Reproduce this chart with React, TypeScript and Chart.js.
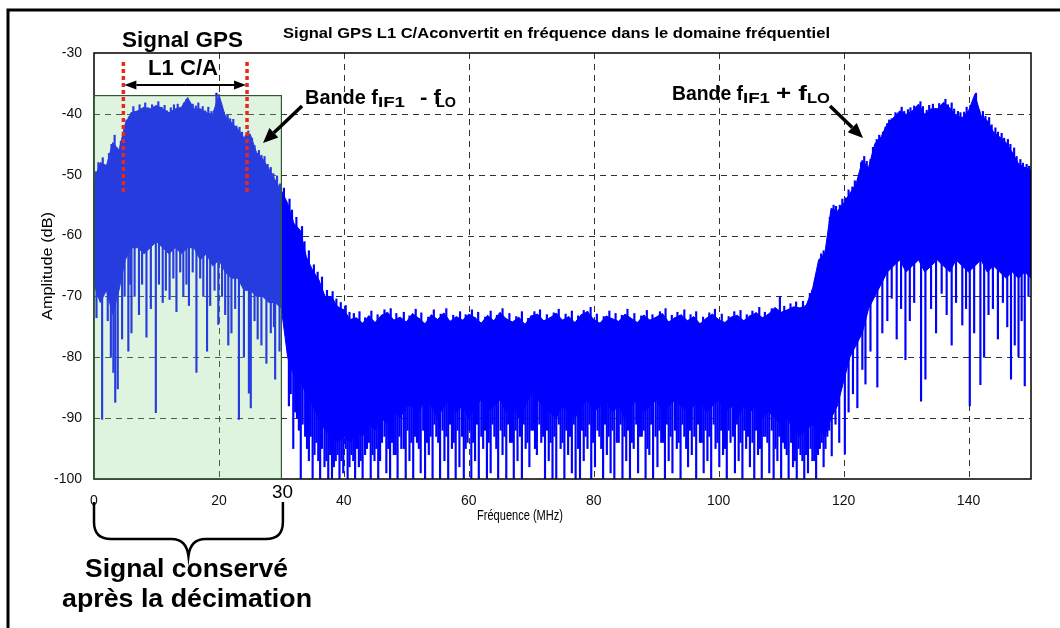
import React, { useEffect, useRef } from 'react';
import { Chart, registerables } from 'chart.js';

Chart.register(...registerables);

// ---------------- data ----------------
const freqMHz = [
  0, 1, 2, 3, 4, 5, 6, 7, 8, 9, 10, 11, 12, 13, 14, 15, 16, 17, 18, 19,
  20, 21, 22, 23, 24, 25, 26, 27, 28, 29, 30, 31, 32, 33, 34, 35, 36, 37, 38, 39,
  40, 41, 42, 43, 44, 45, 46, 47, 48, 49, 50, 51, 52, 53, 54, 55, 56, 57, 58, 59,
  60, 61, 62, 63, 64, 65, 66, 67, 68, 69, 70, 71, 72, 73, 74, 75, 76, 77, 78, 79,
  80, 81, 82, 83, 84, 85, 86, 87, 88, 89, 90, 91, 92, 93, 94, 95, 96, 97, 98, 99,
  100, 101, 102, 103, 104, 105, 106, 107, 108, 109, 110, 111, 112, 113, 114, 115, 116, 117, 118, 119,
  120, 121, 122, 123, 124, 125, 126, 127, 128, 129, 130, 131, 132, 133, 134, 135, 136, 137, 138, 139,
  140, 141, 142, 143, 144, 145, 146, 147, 148, 149, 150,
];

// upper edge of the spectrum (dB)
const peakDb = [
  -51, -48, -48.5, -44.7, -46, -41.6, -39.8, -39.5, -38.9, -39.2,
  -38.6, -39.2, -39.8, -39.2, -38.9, -37.3, -39.2, -39.2, -39.8, -40.1,
  -36.8, -40.3, -41.4, -42.5, -43.9, -43.3, -46.3, -47.4, -49, -50.9,
  -52.6, -54.7, -58, -59.1, -63.5, -65.7, -67.3, -70, -70, -71.7,
  -72.2, -73.8, -73.5, -74.4, -73.2, -74.3, -73.1, -72.6, -73.9, -73.4,
  -74.2, -72.8, -73.6, -74.5, -73, -73.8, -72.7, -74.1, -73.3, -73.9,
  -72.9, -73.5, -74.4, -73.1, -74, -72.6, -73.7, -74.2, -73.4, -74.6,
  -73.2, -72.9, -74, -73.5, -72.8, -73.9, -73.3, -74.3, -73, -72.5,
  -73.8, -74.4, -73.2, -73.7, -74.1, -72.9, -73.6, -74.3, -73.1, -73.9,
  -73.4, -72.8, -74.2, -73.5, -73, -74, -73.3, -74.5, -73.6, -72.9,
  -73.8, -74.3, -73.4, -73.1, -74, -73.2, -72.7, -73.5, -72.9, -71.8,
  -72.6, -72.2, -71.7, -71.9, -71.5, -68.9, -64, -62.9, -55.5, -56,
  -54.7, -53.1, -51.5, -47.7, -48.8, -44.9, -43.8, -41.6, -40.6, -39.5,
  -40.1, -39.5, -38.4, -40.1, -39.2, -39.2, -38.1, -39, -40.3, -40.6,
  -39.5, -36.8, -40.3, -41.1, -43, -43.8, -44.7, -46.3, -48.2, -48.8,
  -49.3,
];

// lower edge of the dense (solid) part of the spectrum (dB)
const floorDb = [
  -68, -71, -69, -73, -69, -64, -62, -62, -63, -62,
  -61, -62, -63, -62, -63, -62, -62, -64, -63, -65,
  -64, -66, -67, -67, -69, -69, -70, -70, -71, -71,
  -72, -80, -83, -84, -86, -88, -90, -92, -93, -94,
  -93, -94, -92, -93, -91, -92, -90, -91, -89, -90,
  -88, -88, -89, -87, -88, -90, -88, -87, -89, -88,
  -90, -88, -87, -89, -88, -87, -89, -88, -90, -88,
  -86, -87, -88, -89, -90, -88, -89, -90, -88, -87,
  -89, -88, -87, -89, -88, -90, -88, -87, -89, -88,
  -87, -89, -88, -87, -88, -89, -88, -87, -89, -88,
  -87, -89, -88, -90, -88, -89, -88, -90, -89, -90,
  -91, -90, -92, -93, -92, -91, -92, -93, -90, -88,
  -84, -80, -78, -76, -72, -70, -68, -66, -65, -64,
  -66, -65, -64, -66, -65, -64, -65, -66, -64, -65,
  -66, -65, -64, -66, -65, -66, -67, -66, -67, -66,
  -67,
];

// deep isolated spikes [frequency MHz, lowest dB]
const spikesLeftBand: [number, number][] = [
  [0.4, -73.5], [0.8, -70], [1.3, -90.2], [2.2, -74], [2.7, -80],
  [3.1, -82.5], [3.4, -87.4], [3.8, -85.2], [4.5, -77], [4.9, -70],
  [5.5, -79], [5.8, -68], [6.0, -76], [6.5, -70], [7.2, -73],
  [7.7, -68], [8.4, -76.7], [9.1, -72], [9.9, -89.1], [10.4, -68],
  [11.0, -71], [11.5, -69], [12.1, -70.5], [12.7, -67], [13.2, -72.5],
  [13.8, -66], [14.3, -70], [14.8, -68], [15.2, -71.5], [15.8, -66],
  [16.4, -82.5], [17.0, -67], [17.5, -70], [18.1, -79], [18.6, -71.5],
  [19.3, -69], [19.9, -74.6], [20.5, -70], [21.0, -73], [21.5, -78],
  [22.0, -76], [22.6, -72], [23.2, -90.2], [24.0, -80], [24.8, -85.9],
  [25.1, -88.3], [25.7, -74], [26.2, -77], [26.8, -78], [27.6, -81],
  [28.3, -76], [28.8, -75], [29.0, -83.6], [29.7, -79],
];

const spikesNoiseFloor: [number, number][] = [
  [31.2, -88], [31.9, -95], [32.5, -90], [33.1, -100], [33.8, -93], [34.4, -97], [35.0, -100], [35.6, -94],
  [36.2, -100], [36.9, -98], [37.5, -100], [38.1, -100], [38.7, -97], [39.3, -100], [39.9, -99], [40.6, -100],
  [41.2, -96], [41.8, -100], [42.4, -98], [43.0, -100], [43.7, -95], [44.3, -100], [44.9, -97], [45.5, -100],
  [46.1, -94], [46.8, -99], [47.4, -100], [48.0, -96], [48.6, -100], [49.2, -95], [49.9, -100], [50.5, -97],
  [51.1, -100], [51.7, -94], [52.3, -99], [53.0, -100], [53.6, -96], [54.2, -100], [54.8, -93], [55.4, -100],
  [56.1, -97], [56.7, -100], [57.3, -95], [57.9, -100], [58.5, -98], [59.2, -100], [59.8, -94], [60.4, -100],
  [61.0, -97], [61.6, -100], [62.3, -95], [62.9, -100], [63.5, -99], [64.1, -93], [64.7, -100], [65.4, -96],
  [66.0, -100], [66.6, -94], [67.2, -100], [67.8, -97], [68.5, -100], [69.1, -95], [69.7, -98], [70.3, -92],
  [70.9, -96], [71.6, -94], [72.2, -100], [72.8, -97], [73.4, -100], [74.0, -100], [74.7, -95], [75.3, -100],
  [75.9, -96], [76.5, -99], [77.1, -100], [77.8, -100], [78.4, -97], [79.0, -95], [79.6, -100], [80.2, -98],
  [80.9, -93], [81.5, -100], [82.1, -96], [82.7, -99], [83.3, -100], [84.0, -94], [84.6, -100], [85.2, -97],
  [85.8, -100], [86.4, -95], [87.1, -99], [87.7, -93], [88.3, -100], [88.9, -96], [89.5, -100], [90.2, -98],
  [90.8, -94], [91.4, -100], [92.0, -97], [92.6, -99], [93.3, -95], [93.9, -100], [94.5, -93], [95.1, -98],
  [95.7, -96], [96.4, -100], [97.0, -94], [97.6, -99], [98.2, -97], [98.8, -100], [99.5, -95], [100.1, -98],
  [100.7, -96], [101.3, -100], [101.9, -94], [102.6, -99], [103.2, -97], [103.8, -100], [104.4, -95], [105.0, -98],
  [105.7, -100], [106.3, -96], [106.9, -100], [107.5, -93], [108.1, -99], [108.8, -100], [109.4, -97], [110.0, -100],
  [110.6, -95], [111.2, -100], [111.9, -98], [112.5, -100], [113.1, -96], [113.7, -100], [114.3, -99], [115.0, -97],
  [115.6, -100], [116.2, -95], [116.8, -98], [117.4, -93], [118.1, -96.2], [118.7, -91], [119.3, -94], [120.2, -95.9],
  [120.8, -89],
];

// shorter spikes packed between the deep ones in the noise floor
const spikesNoiseFloorShort: [number, number][] = [
  [31.5, -86], [32.2, -89], [32.8, -92], [33.4, -91], [34.1, -95], [34.7, -93], [35.3, -96], [35.9, -97],
  [36.5, -95], [37.2, -97], [37.8, -96], [38.4, -98], [39.0, -96], [39.6, -97], [40.3, -95], [40.9, -98],
  [41.5, -97], [42.1, -95], [42.7, -97], [43.4, -96], [44.0, -94], [44.6, -96], [45.2, -95], [45.8, -97],
  [46.5, -93], [47.1, -95], [47.7, -94], [48.3, -96], [48.9, -93], [49.6, -95], [50.2, -92], [50.8, -94],
  [51.4, -93], [52.0, -95], [52.7, -92], [53.3, -94], [53.9, -93], [54.5, -91], [55.1, -94], [55.8, -92],
  [56.4, -93], [57.0, -91], [57.6, -94], [58.2, -92], [58.9, -93], [59.5, -95], [60.1, -92], [60.7, -94],
  [61.3, -91], [62.0, -93], [62.6, -92], [63.2, -94], [63.8, -91], [64.4, -95], [65.1, -92], [65.7, -93],
  [66.3, -91], [66.9, -94], [67.5, -92], [68.2, -93], [68.8, -91], [69.4, -94], [70.0, -92], [70.6, -95],
  [71.3, -91], [71.9, -93], [72.5, -92], [73.1, -94], [73.7, -93], [74.4, -91], [75.0, -94], [75.6, -92],
  [76.2, -93], [76.8, -91], [77.5, -95], [78.1, -92], [78.7, -93], [79.3, -91], [79.9, -94], [80.6, -92],
  [81.2, -95], [81.8, -91], [82.4, -93], [83.0, -92], [83.7, -94], [84.3, -91], [84.9, -93], [85.5, -92],
  [86.1, -94], [86.8, -91], [87.4, -93], [88.0, -92], [88.6, -95], [89.2, -91], [89.9, -93], [90.5, -92],
  [91.1, -94], [91.7, -91], [92.3, -93], [93.0, -92], [93.6, -94], [94.2, -91], [94.8, -95], [95.4, -92],
  [96.1, -93], [96.7, -91], [97.3, -94], [97.9, -92], [98.5, -93], [99.2, -91], [99.8, -94], [100.4, -92],
  [101.0, -95], [101.6, -92], [102.3, -93], [102.9, -91], [103.5, -94], [104.1, -92], [104.7, -93], [105.4, -94],
  [106.0, -92], [106.6, -95], [107.2, -93], [107.8, -94], [108.5, -92], [109.1, -95], [109.7, -93], [110.3, -94],
  [110.9, -96], [111.6, -94], [112.2, -97], [112.8, -95], [113.4, -97], [114.0, -96], [114.7, -95], [115.3, -97],
  [115.9, -96], [116.5, -94], [117.1, -95], [117.7, -92],
];

const spikesRightBand: [number, number][] = [
  [121.5, -86], [122.2, -88.3], [123.0, -82], [123.5, -84.4], [124.3, -79], [125.4, -84.9], [126.2, -76],
  [127.0, -74], [127.7, -70.3], [128.5, -77], [129.2, -72], [129.9, -80.4], [130.6, -74], [131.3, -71],
  [132.4, -87.2], [133.1, -83.6], [134.0, -72], [134.8, -76], [135.7, -69.5], [136.5, -73], [137.3, -78],
  [138.0, -71], [139.0, -74.7], [139.6, -72], [140.2, -88], [140.9, -76], [141.9, -84.5], [142.5, -80],
  [143.2, -73], [143.9, -72], [144.7, -77], [145.5, -71], [146.2, -75], [146.8, -83.6], [147.4, -78],
  [148.0, -79.9], [148.5, -74], [149.0, -84.7], [149.6, -70],
];

// small upward spikes on the upper edge [frequency MHz, highest dB]
const crestsLeftBand: [number, number][] = [
  [0.3, -49.5], [0.7, -48], [1.4, -47.2], [1.8, -49], [2.4, -46.5], [2.8, -45], [3.3, -43.5], [3.7, -45.6],
  [4.3, -44.5], [4.7, -43], [5.2, -41], [5.6, -40.5], [6.3, -38.8], [6.7, -39.6], [7.3, -38.5], [7.8, -39.2],
  [8.2, -38.2], [8.7, -39], [9.3, -38.5], [9.7, -39.4], [10.3, -38], [10.8, -38.9], [11.3, -38.6], [11.7, -39.5],
  [12.3, -39], [12.8, -38.5], [13.4, -38.4], [13.7, -39.3], [14.4, -38.2], [14.8, -37.6], [15.4, -38.9], [15.8, -38.4],
  [16.3, -38.7], [16.7, -38.2], [17.4, -38.8], [17.8, -39.5], [18.3, -38.9], [18.8, -39.6], [19.3, -39.4], [19.6, -36.6],
  [20.4, -39.5], [20.8, -39.8], [21.4, -40.2], [21.8, -40.8], [22.3, -40.9], [22.8, -42], [23.3, -42.2], [23.7, -43],
  [24.3, -43.5], [24.7, -42.8], [25.3, -44], [25.7, -45.2], [26.4, -46], [26.8, -46.8], [27.3, -47], [27.8, -48.3],
  [28.3, -48.8], [28.7, -49.8], [29.3, -50.2], [29.8, -51.5],
];

const crestsNoiseFloor: [number, number][] = [
  [30.4, -52.2], [31.3, -54], [31.7, -55.8], [32.4, -57], [33.3, -58.5], [33.7, -61], [34.4, -62.5], [35.2, -64.8],
  [35.8, -66], [36.5, -66.8], [37.3, -69], [38.2, -69.2], [38.8, -70.4], [39.5, -71], [40.3, -71.5], [40.9, -72.6],
  [41.6, -72.8], [42.5, -72.5], [43.4, -73.5], [44.4, -72.4], [45.4, -73], [46.5, -72.2], [47.5, -72], [48.4, -72.8],
  [49.6, -72.6], [50.5, -73.2], [51.5, -72.1], [52.4, -72.7], [53.5, -73.4], [54.4, -72.2], [55.5, -72.9], [56.4, -72],
  [57.5, -73.1], [58.6, -72.5], [59.5, -73], [60.5, -72.2], [61.5, -72.6], [62.6, -73.4], [63.5, -72.4], [64.5, -73.1],
  [65.4, -72], [66.5, -72.8], [67.6, -73.3], [68.5, -72.5], [69.5, -73.6], [70.5, -72.5], [71.4, -72.2], [72.5, -73],
  [73.6, -72.7], [74.4, -72.1], [75.5, -72.9], [76.5, -72.4], [77.5, -73.2], [78.4, -72.3], [79.5, -71.8], [80.5, -72.9],
  [81.6, -73.3], [82.5, -72.4], [83.5, -72.8], [84.5, -73.1], [85.4, -72.1], [86.5, -72.8], [87.6, -73.2], [88.5, -72.3],
  [89.4, -73], [90.6, -72.5], [91.5, -72], [92.5, -73.1], [93.4, -72.6], [94.5, -72.2], [95.5, -73], [96.4, -72.5],
  [97.5, -73.4], [98.5, -72.7], [99.4, -72.1], [100.5, -72.9], [101.6, -73.3], [102.5, -72.5], [103.5, -72.3], [104.5, -73],
  [105.4, -72.4], [106.5, -71.8], [107.4, -72.6], [108.5, -72], [109.8, -70], [110.5, -71.6], [111.5, -71.2], [112.4, -70.9],
  [113.5, -70.8], [114.6, -69.5], [115.4, -67.5], [115.7, -66.5], [116.4, -63], [116.8, -62.5], [117.4, -61], [117.8, -57],
  [118.4, -55], [118.8, -55.2], [119.4, -55], [119.8, -54],
];

const crestsRightBand: [number, number][] = [
  [120.4, -53.8], [120.8, -52.5], [121.4, -52], [121.8, -51], [122.4, -50.5], [122.8, -48], [123.3, -47], [123.7, -47.8],
  [124.3, -47.5], [124.7, -45.5], [125.3, -44.2], [125.7, -43.5], [126.3, -43], [126.7, -42.2], [127.3, -41], [127.7, -40.8],
  [128.3, -39.8], [128.7, -40.2], [129.3, -38.9], [129.7, -39.6], [130.3, -39.3], [130.7, -39], [131.3, -38.7], [131.7, -39.4],
  [132.3, -38], [132.7, -38.8], [133.3, -39.4], [133.7, -38.6], [134.3, -38.4], [134.7, -39.1], [135.3, -38.3], [135.7, -38.8],
  [136.3, -37.6], [136.7, -38.5], [137.3, -38.2], [137.7, -39.2], [138.3, -39.6], [138.7, -39.8], [139.3, -39.7], [139.7, -38.9],
  [140.3, -38.6], [140.7, -39], [141.2, -36.6], [141.7, -39.4], [142.3, -39.6], [142.7, -40.4], [143.3, -40.6], [143.7, -41.8],
  [144.3, -42.3], [144.7, -43], [145.3, -43.2], [145.7, -44], [146.3, -44.2], [146.7, -45], [147.3, -45.6], [147.7, -47],
  [148.3, -47.5], [148.7, -48.1], [149.3, -48.3], [149.7, -48.6],
];

const xTickValues = [0, 20, 40, 60, 80, 100, 120, 140];
const yTickValues = [-100, -90, -80, -70, -60, -50, -40, -30];
const xGridValues = [20, 40, 60, 80, 100, 120, 140];
const yGridValues = [-90, -80, -70, -60, -50, -40];

const chartTitle = 'Signal GPS L1 C/Aconvertit en fréquence dans le domaine fréquentiel';
const xAxisTitle = 'Fréquence (MHz)';
const yAxisTitle = 'Amplitude (dB)';

// annotation values
const keptBand = { from: 0, to: 30, top: -37 };
const gpsBand = { from: 4.7, to: 24.5 };

// ---------------- helpers ----------------
const FONT = "'Liberation Sans', Arial, Helvetica, sans-serif";

function fitText(ctx: CanvasRenderingContext2D, s: string, x: number, y: number, font: string, width: number | null, align: CanvasTextAlign = 'left') {
  ctx.save();
  ctx.font = font;
  ctx.textBaseline = 'alphabetic';
  ctx.fillStyle = '#000';
  const w = ctx.measureText(s).width;
  const sx = width ? width / w : 1;
  ctx.translate(x, y);
  ctx.scale(sx, 1);
  ctx.textAlign = align;
  ctx.fillText(s, 0, 0);
  ctx.restore();
}

function arrow(ctx: CanvasRenderingContext2D, x1: number, y1: number, x2: number, y2: number, lw: number, headLen: number, headW: number) {
  const ang = Math.atan2(y2 - y1, x2 - x1);
  const bx = x2 - Math.cos(ang) * headLen;
  const by = y2 - Math.sin(ang) * headLen;
  ctx.save();
  ctx.strokeStyle = '#000';
  ctx.fillStyle = '#000';
  ctx.lineWidth = lw;
  ctx.beginPath();
  ctx.moveTo(x1, y1);
  ctx.lineTo(bx, by);
  ctx.stroke();
  ctx.beginPath();
  ctx.moveTo(x2, y2);
  ctx.lineTo(bx + Math.sin(ang) * headW / 2, by - Math.cos(ang) * headW / 2);
  ctx.lineTo(bx - Math.sin(ang) * headW / 2, by + Math.cos(ang) * headW / 2);
  ctx.closePath();
  ctx.fill();
  ctx.restore();
}

type Piece = [string, number, number, number, number];
function richText(ctx: CanvasRenderingContext2D, pieces: Piece[]) {
  for (const [s, x, y, size, w] of pieces) {
    fitText(ctx, s, x, y, `bold ${size}px ${FONT}`, w);
  }
}

const decorPlugin = {
  id: 'decor',
  beforeDatasetsDraw(chart: any) {
    const { ctx, chartArea: a, scales } = chart;
    const X = (v: number) => scales.x.getPixelForValue(v);
    const Y = (v: number) => scales.y.getPixelForValue(v);
    ctx.save();
    ctx.strokeStyle = '#333';
    ctx.lineWidth = 1;
    ctx.setLineDash([6, 5]);
    for (const v of xGridValues) {
      const p = Math.round(X(v)) + 0.5;
      ctx.beginPath(); ctx.moveTo(p, a.top); ctx.lineTo(p, a.bottom); ctx.stroke();
    }
    for (const v of yGridValues) {
      const p = Math.round(Y(v)) + 0.5;
      ctx.beginPath(); ctx.moveTo(a.left, p); ctx.lineTo(a.right, p); ctx.stroke();
    }
    ctx.restore();
  },
  afterDraw(chart: any) {
    const { ctx, chartArea: a, scales } = chart;
    const X = (v: number) => scales.x.getPixelForValue(v);
    const Y = (v: number) => scales.y.getPixelForValue(v);
    ctx.save();

    // axes box
    ctx.strokeStyle = '#000';
    ctx.lineWidth = 1.5;
    ctx.strokeRect(a.left, a.top, a.right - a.left, a.bottom - a.top);

    // kept band (green translucent)
    const gx0 = X(keptBand.from), gx1 = X(keptBand.to), gy0 = Y(keptBand.top), gy1 = Y(-100);
    ctx.fillStyle = 'rgba(140, 215, 140, 0.28)';
    ctx.fillRect(gx0, gy0, gx1 - gx0, gy1 - gy0);
    ctx.strokeStyle = '#2e5a2e';
    ctx.lineWidth = 1.2;
    ctx.strokeRect(gx0, gy0, gx1 - gx0, gy1 - gy0);

    // red dotted limits of GPS band
    ctx.strokeStyle = '#e8281c';
    ctx.lineWidth = 3.5;
    ctx.setLineDash([4, 3]);
    for (const f of [gpsBand.from, gpsBand.to]) {
      const p = X(f);
      ctx.beginPath(); ctx.moveTo(p, 62); ctx.lineTo(p, 193); ctx.stroke();
    }
    ctx.setLineDash([]);

    // double arrow
    const ax0 = X(gpsBand.from) + 1, ax1 = X(gpsBand.to) - 1;
    arrow(ctx, (ax0 + ax1) / 2, 85, ax0, 85, 2, 12, 9);
    arrow(ctx, (ax0 + ax1) / 2, 85, ax1, 85, 2, 12, 9);

    // arrows to bands
    arrow(ctx, 302, 106, 263, 143, 3.5, 15, 13);
    arrow(ctx, 830, 106, 863, 138, 3.5, 15, 13);

    // title
    fitText(ctx, chartTitle, 283, 38, `bold 14px ${FONT}`, 547);
    // axis titles
    fitText(ctx, xAxisTitle, 520, 520, `14px ${FONT}`, 86, 'center');
    ctx.save();
    ctx.translate(52, 266);
    ctx.rotate(-Math.PI / 2);
    fitText(ctx, yAxisTitle, 0, 0, `14px ${FONT}`, 108, 'center');
    ctx.restore();

    // annotation texts
    fitText(ctx, 'Signal GPS', 122, 47, `bold 22px ${FONT}`, 121);
    fitText(ctx, 'L1 C/A', 148, 75, `bold 22px ${FONT}`, 70);
    richText(ctx, [
      ['Bande f', 305, 104, 20, 73],
      ['IF1', 378, 107, 14, 27],
      ['- f', 420, 104, 20, 21],
      ['LO', 436, 107, 14, 20],
    ]);
    richText(ctx, [
      ['Bande f', 672, 100, 20, 71],
      ['IF1', 743, 103, 14, 27],
      ['+ f', 776, 100, 20, 31],
      ['LO', 807, 103, 14, 23],
    ]);
    fitText(ctx, '30', X(30) + 1, 498, `19px ${FONT}`, 21, 'center');

    // brace under the kept band
    const bl = X(keptBand.from), br = X(keptBand.to) + 1.5, bm = (bl + br) / 2;
    ctx.strokeStyle = '#000';
    ctx.lineWidth = 2.5;
    ctx.beginPath();
    ctx.moveTo(bl, 502);
    ctx.lineTo(bl, 522);
    ctx.quadraticCurveTo(bl, 539, bl + 17, 539);
    ctx.lineTo(bm - 17, 539);
    ctx.quadraticCurveTo(bm - 2, 539, bm, 556);
    ctx.quadraticCurveTo(bm + 2, 539, bm + 17, 539);
    ctx.lineTo(br - 17, 539);
    ctx.quadraticCurveTo(br, 539, br, 522);
    ctx.lineTo(br, 502);
    ctx.stroke();
    fitText(ctx, 'Signal conservé', 85, 577, `bold 26px ${FONT}`, 203);
    fitText(ctx, 'après la décimation', 62, 607, `bold 26px ${FONT}`, 250);

    // outer frame (top and left edges)
    ctx.strokeStyle = '#000';
    ctx.lineWidth = 3;
    ctx.beginPath();
    ctx.moveTo(8, 628);
    ctx.lineTo(8, 10);
    ctx.lineTo(1060, 10);
    ctx.stroke();

    ctx.restore();
  },
};

function edgeAt(f: number) {
  const i0 = Math.floor(f), i1 = Math.min(Math.ceil(f), peakDb.length - 1);
  return Math.min(peakDb[i0], peakDb[i1]);
}

export default function App() {
  const ref = useRef<HTMLCanvasElement | null>(null);
  useEffect(() => {
    if (!ref.current) return;
    const spikes = [...spikesLeftBand, ...spikesNoiseFloor, ...spikesNoiseFloorShort, ...spikesRightBand];
    const crests = [...crestsLeftBand, ...crestsNoiseFloor, ...crestsRightBand];
    const chart = new Chart(ref.current, {
      type: 'line',
      data: {
        datasets: [
          {
            type: 'line',
            data: freqMHz.map((f, i) => ({ x: f, y: peakDb[i] })),
            borderColor: '#0000ff',
            backgroundColor: '#0000ff',
            borderWidth: 1,
            pointRadius: 0,
            tension: 0,
            fill: '+1',
            order: 3,
          },
          {
            type: 'line',
            data: freqMHz.map((f, i) => ({ x: f, y: floorDb[i] })),
            borderColor: '#0000ff',
            borderWidth: 1,
            pointRadius: 0,
            tension: 0,
            fill: false,
            order: 3,
          },
          {
            type: 'bar',
            data: spikes.map(([f, lo]) => ({ x: f, y: [lo, edgeAt(f)] })),
            backgroundColor: '#0000ff',
            borderWidth: 0,
            barThickness: 1.5,
            grouped: false,
            order: 1,
          } as any,
          {
            type: 'bar',
            data: crests.map(([f, hi]) => ({ x: f, y: [edgeAt(f) - 2, hi] })),
            backgroundColor: '#0000ff',
            borderWidth: 0,
            barThickness: 1.5,
            grouped: false,
            order: 2,
          } as any,
        ],
      },
      options: {
        animation: false,
        responsive: false,
        devicePixelRatio: 1,
        events: [],
        layout: { padding: { left: 0, right: 29, top: 53, bottom: 0 } },
        plugins: { legend: { display: false }, tooltip: { enabled: false }, title: { display: false } },
        scales: {
          x: {
            type: 'linear',
            min: 0,
            max: 150,
            offset: false,
            grid: { display: false, offset: false },
            border: { display: false },
            afterBuildTicks: (s: any) => { s.ticks = xTickValues.map((v) => ({ value: v })); },
            afterFit: (s: any) => { s.height = 149; },
            ticks: { autoSkip: false, maxRotation: 0, padding: 6, color: '#111', font: { family: FONT, size: 14 } },
          },
          y: {
            type: 'linear',
            min: -100,
            max: -30,
            grid: { display: false },
            border: { display: false },
            afterBuildTicks: (s: any) => { s.ticks = yTickValues.map((v) => ({ value: v })); },
            afterFit: (s: any) => { s.width = 94; },
            ticks: { autoSkip: false, padding: 4, color: '#111', font: { family: FONT, size: 14 } },
          },
        },
      } as any,
      plugins: [decorPlugin],
    });
    return () => chart.destroy();
  }, []);
  return (
    <div style={{ position: 'fixed', left: 0, top: 0, width: 1060, height: 628, background: '#fff' }}>
      <canvas ref={ref} width={1060} height={628} style={{ width: 1060, height: 628, display: 'block' }} />
    </div>
  );
}
